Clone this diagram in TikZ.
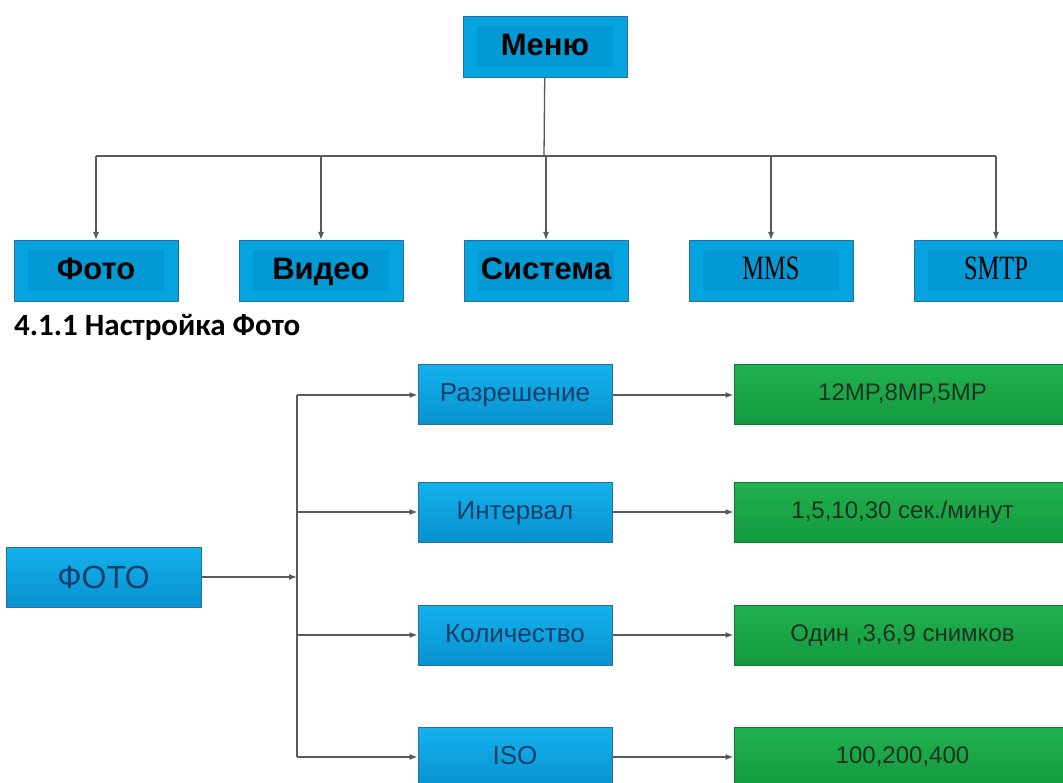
\documentclass[tikz,border=0pt]{standalone}
\usepackage{fontspec}
\usepackage{graphicx}
\setmainfont{Liberation Sans}
\newfontfamily\headfont{Carlito}
\newfontfamily\narrowserif{Liberation Serif}
\usetikzlibrary{positioning}
\usetikzlibrary{arrows.meta}

\definecolor{boxblue}{HTML}{05A4E0}
\definecolor{innerblue}{HTML}{0399D4}
\definecolor{blueedge}{HTML}{2B6E98}
\definecolor{lowtop}{HTML}{14B1EC}
\definecolor{lowbottom}{HTML}{0792CF}
\definecolor{greentop}{HTML}{22B150}
\definecolor{greenbottom}{HTML}{12993E}
\definecolor{greenedge}{HTML}{0E7A30}
\definecolor{subtext}{HTML}{133F6D}
\definecolor{greentext}{HTML}{1B3320}
\definecolor{wire}{HTML}{595959}

\tikzset{
  menubox/.style={draw=blueedge, line width=1pt, fill=boxblue,
    minimum width=164pt, minimum height=61pt, inner sep=0pt,
    text height=23pt, text depth=6pt,
    font=\bfseries\fontsize{31}{31}\selectfont,
    path picture={\fill[innerblue]
      ([xshift=14pt,yshift=10pt]path picture bounding box.south west) rectangle
      ([xshift=-14pt,yshift=-10pt]path picture bounding box.north east);}},
  subbox/.style={draw=blueedge, line width=1pt, top color=lowtop, bottom color=lowbottom,
    minimum width=194pt, minimum height=60pt, inner sep=0pt,
    text height=19pt, text depth=5pt,
    text=subtext, font=\fontsize{26}{26}\selectfont},
  valbox/.style={draw=greenedge, line width=1pt, top color=greentop, bottom color=greenbottom,
    minimum width=337pt, minimum height=60pt, inner sep=0pt,
    text height=17pt, text depth=5pt,
    text=greentext, font=\fontsize{24}{24}\selectfont},
  wireline/.style={draw=wire, line width=1.3pt},
  arr/.style={wireline, -{Latex[length=8pt,width=6pt]}}
}

\begin{document}
\begin{tikzpicture}[x=1pt, y=-1pt]
    \useasboundingbox (0,0) rectangle (1063,783);

    % Define nodes
    \node[menubox]                   (menu)    at (545,47)  {Меню};
    \node[menubox]                   (foto)    at (96,271)  {Фото};
    \node[menubox, right=60pt of foto]    (video)   {Видео};
    \node[menubox, right=60pt of video]   (sistema) {Система};
    \node[menubox, right=60pt of sistema] (mms)
      {\narrowserif\mdseries\fontsize{34}{34}\selectfont\scalebox{0.72}[1]{MMS}};
    \node[menubox, right=60pt of mms]     (smtp)
      {\narrowserif\mdseries\fontsize{34}{34}\selectfont\scalebox{0.72}[1]{SMTP}};
    \coordinate (split) at (544,156);

    \node[anchor=base west, inner sep=0pt, font=\headfont\bfseries\fontsize{31}{31}\selectfont]
      (head) at (14,336) {4.1.1 Настройка Фото};

    \node[subbox, minimum width=195pt, text height=23pt, text depth=1pt,
      font=\fontsize{32}{32}\selectfont]
      (fotomain) at (103.5,577) {ФОТО};
    \coordinate (hub) at (297,577);

    \node[subbox] (res)   at (515,395) {Разрешение};
    \node[subbox] (intv)  at (515,512) {Интервал};
    \node[subbox] (count) at (515,635) {Количество};
    \node[subbox] (iso)   at (515,757) {ISO};

    \node[valbox, right=121pt of res]   (resv)   {12MP,8MP,5MP};
    \node[valbox, right=121pt of intv]  (intvv)  {1,5,10,30 сек./минут};
    \node[valbox, right=121pt of count] (countv) {Один ,3,6,9 снимков};
    \node[valbox, right=121pt of iso]   (isov)   {100,200,400};

    % Connect the nodes
    \draw[wireline] (menu) -- (split);
    \draw[wireline] (foto |- split) -- (smtp |- split);
    \draw[arr] (foto |- split) -- (foto);
    \draw[arr] (video |- split) -- (video);
    \draw[arr] (sistema |- split) -- (sistema);
    \draw[arr] (mms |- split) -- (mms);
    \draw[arr] (smtp |- split) -- (smtp);

    \draw[arr] (fotomain) -- (hub);
    \draw[wireline] (hub |- res) -- (hub |- iso);
    \draw[arr] (hub |- res) -- (res);
    \draw[arr] (hub |- intv) -- (intv);
    \draw[arr] (hub |- count) -- (count);
    \draw[arr] (hub |- iso) -- (iso);

    \draw[arr] (res) -- (resv);
    \draw[arr] (intv) -- (intvv);
    \draw[arr] (count) -- (countv);
    \draw[arr] (iso) -- (isov);
  \end{tikzpicture}
\end{document}
